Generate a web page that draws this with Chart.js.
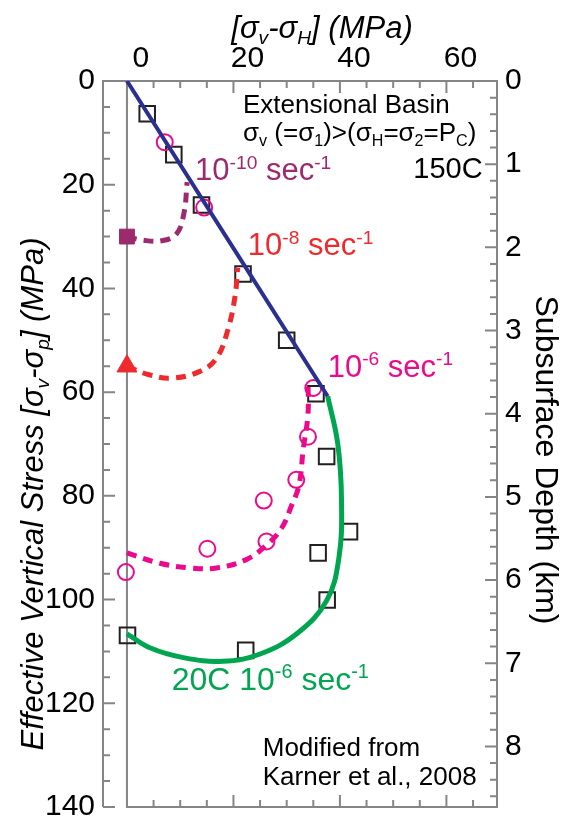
<!DOCTYPE html>
<html lang="en">
<head>
<meta charset="UTF-8" />
<title>Effective Vertical Stress vs Depth</title>
<script src="https://cdn.jsdelivr.net/npm/chart.js"></script>
<style>
  html, body { margin: 0; padding: 0; background: #fff; }
</style>
</head>
<body>
<canvas id="stressChart" width="561" height="833"></canvas>
<script>
  // tick labels
  const diffTicks = [0, 20, 40, 60];
  const stressTicks = [0, 20, 40, 60, 80, 100, 120, 140];
  const depthTicks = [0, 1, 2, 3, 4, 5, 6, 7, 8];
  const MPA_PER_KM = 16.04;

  // 150C trend (blue line)
  const blueX = [0, 37.7];
  const blueY = [0, 60.8];

  // 20C 10^-6 sec^-1 (green curve)
  const greenX = [37.7, 39.6, 40.3, 39.8, 37.5, 32.0, 25.0, 18.0, 10.6, 4.3, 0];
  const greenY = [60.8, 70.0, 81.0, 92.0, 100.2, 106.5, 110.5, 111.9, 111.2, 109.3, 106.6];

  // 10^-10 sec^-1 (purple dashed)
  const purpleX = [0, 3.0, 6.5, 9.3, 10.7, 11.3];
  const purpleY = [30, 30.7, 30.8, 29.5, 25.5, 19.5];

  // 10^-8 sec^-1 (red dashed)
  const redX = [0, 4.0, 8.4, 13.7, 16.8, 19.0, 20.3, 20.8];
  const redY = [55, 56.6, 57.3, 56.0, 53.5, 47.8, 41.5, 36.0];

  // 10^-6 sec^-1 (magenta dashed)
  const magentaX = [0, 6.2, 11.8, 16.8, 22.4, 26.2, 29.0, 30.9, 32.3, 33.1, 34.0, 34.0];
  const magentaY = [91, 93.0, 93.9, 93.9, 92.3, 89.5, 86.3, 81.9, 78.0, 71.1, 64.2, 57.6];

  // measured points
  const squareX = [3.8, 8.8, 14.0, 21.8, 30.0, 35.5, 37.5, 41.8, 35.9, 37.6, 22.3, 0.1];
  const squareY = [6.3, 14.2, 23.9, 37.2, 50.0, 60.3, 72.4, 86.9, 91.0, 100.1, 109.8, 106.9];
  const circleX = [7.1, 14.5, 35.0, 34.0, 31.8, 25.7, 26.2, 15.1, -0.2];
  const circleY = [11.8, 24.4, 59.2, 68.6, 76.9, 80.9, 88.8, 90.2, 94.7];

  // end-member markers on the axis
  const purpleMarkX = [0], purpleMarkY = [30];
  const redMarkX = [0], redMarkY = [55];

  const FONT = '"Liberation Sans", Arial, Helvetica, sans-serif';
  Chart.defaults.font.family = FONT;
  Chart.defaults.color = '#000';

  const pts = (xs, ys) => xs.map((x, i) => ({ x: x, y: ys[i] }));

  function line(xs, ys, color, width, dash, order) {
    return {
      data: pts(xs, ys), showLine: true, borderColor: color, borderWidth: width,
      borderDash: dash, pointRadius: 0, tension: 0.4, fill: false, order: order
    };
  }

  function marks(xs, ys, style, r, stroke, fillCol, bw, order) {
    return {
      data: pts(xs, ys), showLine: false, pointStyle: style, pointRadius: r,
      borderColor: stroke, backgroundColor: fillCol, pointBorderWidth: bw, order: order
    };
  }

  // text with sub/superscripts: parts = [text | [text, 'sub'|'sup']]
  function drawRich(ctx, parts, x, y, size, color, align, italic) {
    const f = s => (italic ? 'italic ' : '') + s + 'px ' + FONT;
    const small = size * 0.62;
    let w = 0;
    parts.forEach(p => {
      const t = Array.isArray(p) ? p[0] : p;
      ctx.font = f(Array.isArray(p) ? small : size);
      w += ctx.measureText(t).width;
    });
    let cx = align === 'center' ? x - w / 2 : align === 'right' ? x - w : x;
    ctx.fillStyle = color;
    ctx.textAlign = 'left';
    ctx.textBaseline = 'alphabetic';
    parts.forEach(p => {
      const t = Array.isArray(p) ? p[0] : p;
      const kind = Array.isArray(p) ? p[1] : null;
      ctx.font = f(kind ? small : size);
      const dy = kind === 'sub' ? size * 0.2 : kind === 'sup' ? -size * 0.36 : 0;
      ctx.fillText(t, cx, y + dy);
      cx += ctx.measureText(t).width;
    });
  }

  const axesPlugin = {
    id: 'axesPlugin',
    beforeDatasetsDraw(chart) {
      const { ctx, chartArea: a } = chart;
      const xs = chart.scales.x, ys = chart.scales.y, ks = chart.scales.y2;
      const x0 = xs.getPixelForValue(0);
      ctx.save();
      ctx.strokeStyle = '#858585';
      ctx.lineWidth = 2;
      ctx.beginPath();
      ctx.moveTo(a.left, a.bottom); ctx.lineTo(a.left, a.top); ctx.lineTo(a.right, a.top);
      ctx.lineTo(a.right, a.bottom); ctx.lineTo(x0, a.bottom); ctx.lineTo(x0, a.top);
      // stress ticks (left, inward)
      for (let v = 0; v <= 140; v += 5) {
        const py = ys.getPixelForValue(v);
        ctx.moveTo(a.left, py); ctx.lineTo(a.left + (v % 20 === 0 ? 12 : 7), py);
      }
      // differential stress ticks (top and bottom)
      for (let v = 5; v < 70; v += 5) {
        const px = xs.getPixelForValue(v);
        const len = v % 20 === 0 ? 12 : 7;
        ctx.moveTo(px, a.top); ctx.lineTo(px, a.top + len);
        ctx.moveTo(px, a.bottom); ctx.lineTo(px, a.bottom - len);
      }
      // depth ticks (right)
      for (let k = 0; k <= 43; k++) {
        const py = ks.getPixelForValue(k / 5);
        ctx.moveTo(a.right, py); ctx.lineTo(a.right - (k % 5 === 0 ? 12 : 7), py);
      }
      ctx.stroke();
      ctx.restore();
    },
    afterDatasetsDraw(chart) {
      const { ctx, chartArea: a } = chart;
      const xs = chart.scales.x, ys = chart.scales.y;
      const X = v => xs.getPixelForValue(v), Y = v => ys.getPixelForValue(v);
      ctx.save();
      drawRich(ctx, ['Extensional Basin'], X(21.8), Y(6.1), 26, '#000', 'left');
      drawRich(ctx, ['\u03c3', ['v', 'sub'], ' (=\u03c3', ['1', 'sub'], ')>(\u03c3', ['H', 'sub'], '=\u03c3', ['2', 'sub'], '=P', ['C', 'sub'], ')'],
        X(21.8), Y(11.6), 26, '#000', 'left');
      drawRich(ctx, ['150C'], X(66.8), Y(18.8), 29, '#000', 'right');
      drawRich(ctx, ['10', ['-10', 'sup'], ' sec', ['-1', 'sup']], X(12.8), Y(19.1), 31, '#9c2a6e', 'left');
      drawRich(ctx, ['10', ['-8', 'sup'], ' sec', ['-1', 'sup']], X(22.7), Y(33.5), 31, '#ee2a2e', 'left');
      drawRich(ctx, ['10', ['-6', 'sup'], ' sec', ['-1', 'sup']], X(37.7), Y(57.0), 31, '#ec0a8c', 'left');
      drawRich(ctx, ['20C 10', ['-6', 'sup'], ' sec', ['-1', 'sup']], X(8.4), Y(117.4), 32, '#00a550', 'left');
      drawRich(ctx, ['Modified from'], X(25.5), Y(130.1), 26, '#000', 'left');
      drawRich(ctx, ['Karner et al., 2008'], X(25.5), Y(135.8), 26, '#000', 'left');

      // axis titles
      drawRich(ctx, ['[\u03c3', ['v', 'sub'], '-\u03c3', ['H', 'sub'], '] (MPa)'], 322, 38, 31, '#000', 'center', true);
      ctx.save();
      ctx.translate(43, 494);
      ctx.rotate(-Math.PI / 2);
      drawRich(ctx, ['Effective Vertical Stress [\u03c3', ['v', 'sub'], '-\u03c3', ['p', 'sub'], '] (MPa)'], 0, 0, 31, '#000', 'center', true);
      ctx.restore();
      ctx.save();
      ctx.translate(536, 460);
      ctx.rotate(Math.PI / 2);
      drawRich(ctx, ['Subsurface Depth (km)'], 0, 0, 32, '#000', 'center');
      ctx.restore();
      ctx.restore();
    }
  };

  new Chart(document.getElementById('stressChart'), {
    type: 'scatter',
    data: {
      datasets: [
        marks(purpleMarkX, purpleMarkY, 'rect', 10.5, '#9c2a6e', '#9c2a6e', 1, 1),
        marks(redMarkX, redMarkY, 'triangle', 11.5, '#ee2a2e', '#ee2a2e', 1, 1),
        line(blueX, blueY, '#2b3090', 4, [], 2),
        line(greenX, greenY, '#00a550', 5, [], 3),
        line(purpleX, purpleY, '#9c2a6e', 5, [10, 7], 4),
        line(redX, redY, '#ee2a2e', 5, [10, 7], 4),
        line(magentaX, magentaY, '#ec0a8c', 5, [10, 7], 4),
        marks(circleX, circleY, 'circle', 8, '#ec0a8c', 'rgba(0,0,0,0)', 2, 5),
        marks(squareX, squareY, 'rect', 11, '#231f20', 'rgba(0,0,0,0)', 2, 6)
      ]
    },
    options: {
      responsive: false,
      animation: false,
      layout: { padding: { top: 0, left: 0, right: 0, bottom: 12 } },
      plugins: { legend: { display: false }, tooltip: { enabled: false } },
      scales: {
        x: {
          type: 'linear', position: 'top', min: -4.5, max: 69.5,
          grid: { display: false, drawTicks: false }, border: { display: false },
          afterBuildTicks: s => { s.ticks = diffTicks.map(v => ({ value: v })); },
          ticks: { font: { size: 30 }, padding: 4, labelOffset: 14, maxRotation: 0, autoSkip: false },
          afterFit: s => { s.height = 81; }
        },
        y: {
          type: 'linear', position: 'left', reverse: true, min: 0, max: 140,
          grid: { display: false, drawTicks: false }, border: { display: false },
          afterBuildTicks: s => { s.ticks = stressTicks.map(v => ({ value: v })); },
          ticks: { font: { size: 30 }, padding: 8, autoSkip: false },
          afterFit: s => { s.width = 103; }
        },
        y2: {
          type: 'linear', position: 'right', reverse: true, min: 0, max: 140 / MPA_PER_KM,
          grid: { display: false, drawTicks: false }, border: { display: false },
          afterBuildTicks: s => { s.ticks = depthTicks.map(v => ({ value: v })); },
          ticks: { font: { size: 30 }, padding: 8, autoSkip: false },
          afterFit: s => { s.width = 64; }
        }
      }
    },
    plugins: [axesPlugin]
  });
</script>
</body>
</html>
